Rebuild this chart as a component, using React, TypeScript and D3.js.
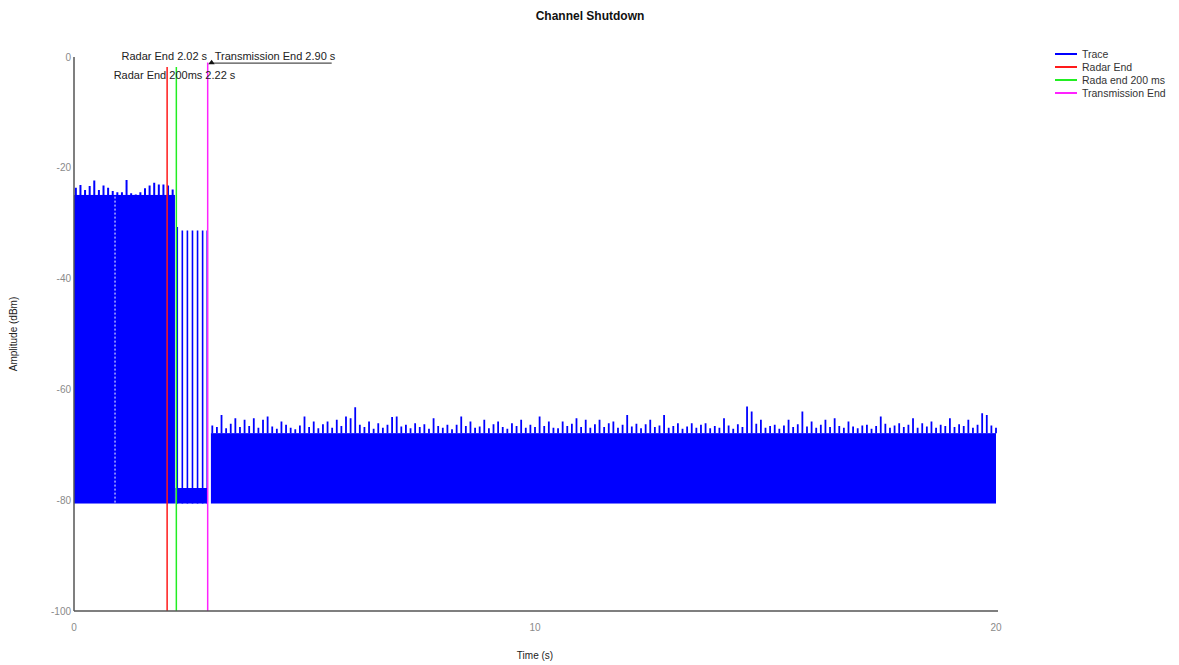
import React from "react";
import * as d3 from "d3";

// ---------- DATA ----------
const title = "Channel Shutdown";
const xLabel = "Time (s)";
const yLabel = "Amplitude (dBm)";
const xTicks = [0, 10, 20];
const yTicks = [0, -20, -40, -60, -80, -100];

// Segment 1: radar on (0 s .. 2.19 s), peaks every 0.1 s
const seg1Start = 0.0;
const seg1End = 2.19;
const seg1Body = -24.9;
const seg1Floor = -80.6;
const seg1Peaks = [
  -23.6, -23.1, -24.0, -23.3, -22.3, -24.0, -23.2, -23.6, -24.2, -24.4, -24.4,
  -22.2, -24.6, -24.8, -24.4, -23.7, -23.2, -22.7, -23.0, -23.0, -23.2, -23.9,
];
const seg1GapTime = 0.89;

// Segment 2: between radar-end+200ms and transmission end
const seg2Start = 2.2;
const seg2End = 2.9;
const seg2Body = -77.8;
const seg2Floor = -80.6;
const seg2SpikeTimes = [2.24, 2.35, 2.46, 2.57, 2.68, 2.79, 2.89];
const seg2SpikePeaks = [-30.7, -31.3, -31.3, -31.3, -31.3, -31.3, -31.3];

// Segment 3: after transmission end (3.0 s .. 20.0 s), peaks every 0.1 s
const seg3Start = 2.97;
const seg3End = 20.0;
const seg3Body = -67.9;
const seg3Floor = -80.6;
const seg3Peaks = [
  -66.5, -66.8, -64.6, -67.0, -66.2, -65.2, -66.8, -65.5, -66.6, -65.2,
  -66.9, -65.5, -64.9, -66.7, -67.1, -65.8, -66.4, -66.9, -67.2, -66.5,
  -64.9, -66.8, -65.8, -67.0, -66.3, -65.8, -66.9, -65.5, -66.6, -64.9,
  -65.2, -63.2, -66.4, -66.8, -65.8, -67.1, -66.1, -66.9, -66.4, -65.0,
  -64.9, -66.7, -66.4, -67.0, -66.1, -66.8, -66.3, -67.1, -65.2, -66.6,
  -66.9, -66.4, -67.2, -66.4, -64.9, -66.6, -65.8, -66.9, -66.7, -65.5,
  -67.0, -66.3, -65.8, -66.8, -67.1, -66.1, -66.6, -65.5, -66.9, -66.4,
  -66.8, -64.9, -66.6, -65.8, -66.9, -67.0, -65.8, -66.6, -66.2, -65.2,
  -66.8, -65.5, -66.9, -66.3, -65.5,
  -66.8, -66.1, -65.8, -66.9, -66.4, -64.6, -66.7, -66.2, -67.0, -66.3,
  -65.5, -66.8, -66.5, -64.6, -66.9, -66.6, -66.1, -67.1, -66.7, -66.1,
  -66.9, -66.4, -66.1, -67.0, -66.6, -66.9, -65.2, -66.5, -67.1, -66.3,
  -66.8, -63.1, -64.0, -66.2, -65.5, -66.9, -66.6, -66.4, -67.1, -66.5,
  -65.5, -66.8, -66.3, -64.0, -66.7, -65.8, -66.9, -66.4, -65.5, -66.8,
  -65.2, -66.6, -66.9, -65.8, -66.7, -67.0, -66.5, -66.4, -67.1, -66.6,
  -64.9, -66.2, -66.9, -66.5, -66.1, -66.8, -66.4, -65.2, -66.9, -66.1,
  -66.7, -65.8, -66.9, -66.4, -66.6, -65.2, -66.8, -66.3, -66.6, -65.5,
  -66.9, -66.4, -64.3, -64.6, -66.5, -66.9,
];
const seg3FirstPeakTime = 3.0;
const peakStep = 0.1;

// Markers
const markerNames = ["Radar End", "Rada end 200 ms", "Transmission End"];
const markerTimes = [2.02, 2.22, 2.9];
const markerLabels = ["Radar End 2.02 s", "Radar End 200ms 2.22 s", "Transmission End 2.90 s"];
const legendNames = ["Trace", "Radar End", "Rada end 200 ms", "Transmission End"];

// ---------- STYLE ----------
const W = 1179;
const H = 665;
const plot = { left: 74, right: 996, top: 57, bottom: 611 };
const traceColor = "#0000ff";
const markerColors = ["#ff1a1a", "#22ee22", "#ff22ff"];
const legendColors = [traceColor, ...markerColors];
const font = "Liberation Sans, Arial, sans-serif";

export default function App() {
  const x = d3.scaleLinear().domain([0, 20]).range([plot.left, plot.right]);
  const y = d3.scaleLinear().domain([-100, 0]).range([plot.bottom, plot.top]);

  const band = (t0: number, t1: number, lo: number, hi: number) => (
    <rect
      x={x(t0)}
      y={y(hi)}
      width={x(t1) - x(t0)}
      height={y(lo) - y(hi)}
      fill={traceColor}
    />
  );

  const seg1Path = d3.path();
  seg1Peaks.forEach((p, i) => {
    const t = seg1Start + i * peakStep + 0.04;
    seg1Path.moveTo(x(t), y(seg1Body));
    seg1Path.lineTo(x(t), y(p));
  });

  const seg2Path = d3.path();
  seg2SpikeTimes.forEach((t, i) => {
    seg2Path.moveTo(x(t), y(seg2Floor));
    seg2Path.lineTo(x(t), y(seg2SpikePeaks[i]));
  });

  const seg3Path = d3.path();
  seg3Peaks.forEach((p, i) => {
    const t = seg3FirstPeakTime + i * peakStep;
    seg3Path.moveTo(x(t), y(seg3Body));
    seg3Path.lineTo(x(t), y(p));
  });

  const tickColor = "#8a8a8a";

  return (
    <div style={{ position: "absolute", left: 0, top: 0 }}>
      <svg width={W} height={H} style={{ display: "block", background: "#fff" }}>
        <text x={590} y={20} textAnchor="middle" fontFamily={font} fontWeight="bold" fontSize={12} fill="#111">
          {title}
        </text>

        {/* trace */}
        <g>
          {band(seg1Start, seg1End, seg1Floor, seg1Body)}
          <path d={seg1Path.toString()} stroke={traceColor} strokeWidth={2} fill="none" />
          <line
            x1={x(seg1GapTime)}
            x2={x(seg1GapTime)}
            y1={y(seg1Body - 0.3)}
            y2={y(seg1Floor)}
            stroke="#ffffff"
            strokeWidth={1}
            strokeDasharray="2,2"
          />
          {band(seg2Start, seg2End, seg2Floor, seg2Body)}
          <path d={seg2Path.toString()} stroke={traceColor} strokeWidth={1.6} fill="none" />
          {band(seg3Start, seg3End, seg3Floor, seg3Body)}
          <path d={seg3Path.toString()} stroke={traceColor} strokeWidth={1.8} fill="none" />
        </g>

        {/* markers */}
        {markerTimes.map((t, i) => (
          <line
            key={markerNames[i]}
            x1={x(t)}
            x2={x(t)}
            y1={i === 2 ? y(-1) : y(-1.8)}
            y2={plot.bottom}
            stroke={markerColors[i]}
            strokeWidth={1.5}
          />
        ))}

        {/* axes */}
        <line x1={plot.left} x2={plot.left} y1={plot.top} y2={plot.bottom} stroke="#555" strokeWidth={1.5} />
        <line x1={plot.left} x2={plot.right + 2} y1={plot.bottom} y2={plot.bottom} stroke="#555" strokeWidth={1.5} />
        {yTicks.map((v) => (
          <text
            key={v}
            x={plot.left - 3}
            y={y(v) + 3.5}
            textAnchor="end"
            fontFamily={font}
            fontSize={10}
            fill={tickColor}
          >
            {v}
          </text>
        ))}
        {xTicks.map((v) => (
          <text key={v} x={x(v)} y={y(-100) + 20} textAnchor="middle" fontFamily={font} fontSize={10} fill={tickColor}>
            {v}
          </text>
        ))}
        <text x={x(10)} y={659} textAnchor="middle" fontFamily={font} fontSize={10} fill="#222">
          {xLabel}
        </text>
        <text
          transform={`translate(17,${(plot.top + plot.bottom) / 2}) rotate(-90)`}
          textAnchor="middle"
          fontFamily={font}
          fontSize={10}
          fill="#222"
        >
          {yLabel}
        </text>

        {/* annotations */}
        <text x={x(markerTimes[0]) + 40} y={y(-0.6)} textAnchor="end" fontFamily={font} fontSize={11} fill="#222">
          {markerLabels[0]}
        </text>
        <text x={x(markerTimes[1]) + 59} y={y(-3.9)} textAnchor="end" fontFamily={font} fontSize={11} fill="#222">
          {markerLabels[1]}
        </text>
        <text x={x(markerTimes[2]) + 7} y={y(-0.6)} fontFamily={font} fontSize={11} fill="#222">
          {markerLabels[2]}
        </text>
        <line
          x1={x(markerTimes[2]) + 2}
          x2={x(markerTimes[2]) + 124}
          y1={y(-1.1)}
          y2={y(-1.1)}
          stroke="#222"
          strokeWidth={1}
        />
        <path
          d={`M${x(markerTimes[2]) + 4},${y(-0.5)} L${x(markerTimes[2]) + 0.5},${y(-1.3)} L${x(markerTimes[2]) + 7},${y(-1.3)} Z`}
          fill="#111"
        />

        {/* legend */}
        {legendNames.map((n, i) => (
          <g key={n} transform={`translate(1055,${54 + i * 13})`}>
            <line x1={0} x2={22} y1={0} y2={0} stroke={legendColors[i]} strokeWidth={2} />
            <text x={27} y={4} fontFamily={font} fontSize={10.5} fill="#333">
              {n}
            </text>
          </g>
        ))}
      </svg>
    </div>
  );
}
